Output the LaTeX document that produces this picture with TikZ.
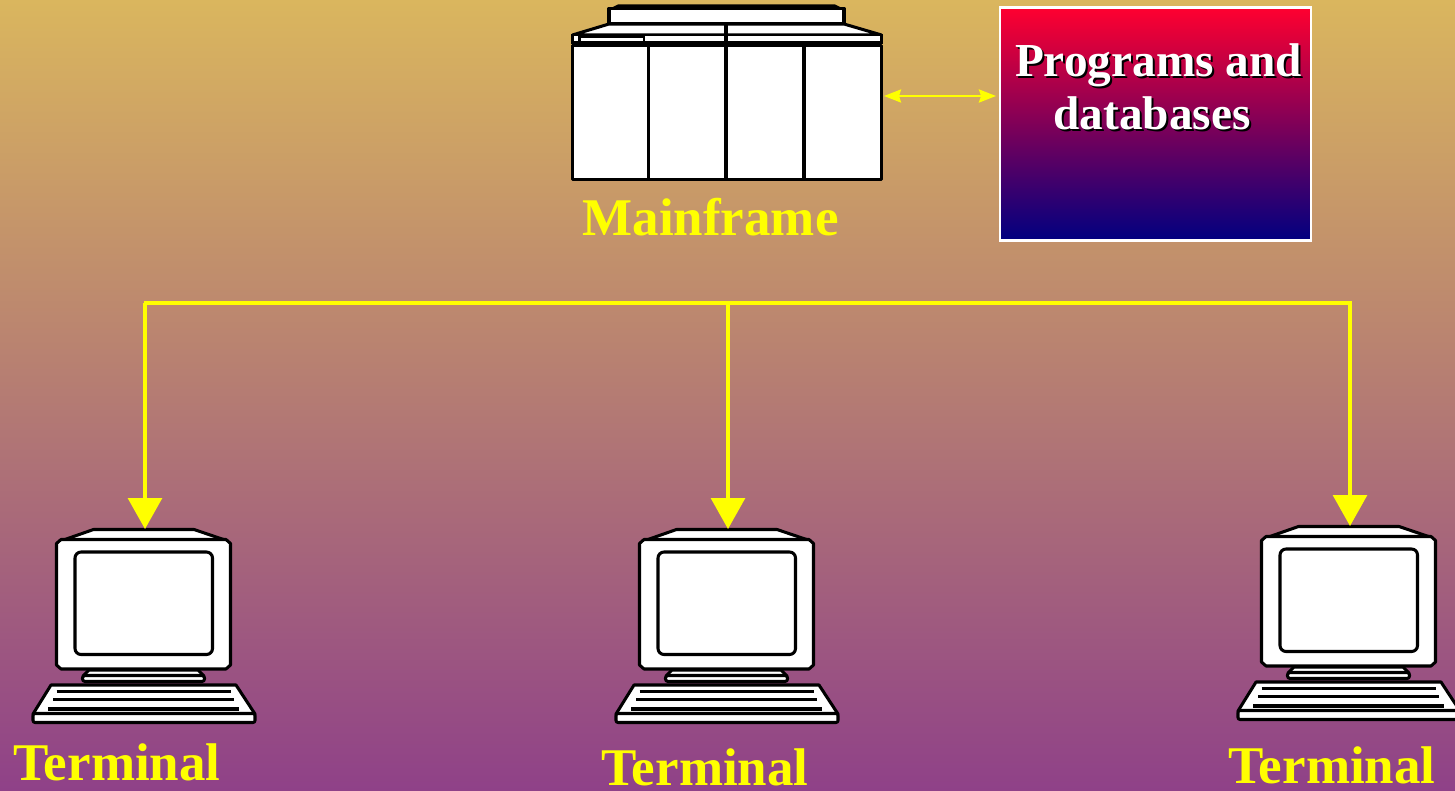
\documentclass[tikz,border=0pt]{standalone}
\usepackage{fontspec}
\setmainfont{Liberation Serif}
\usetikzlibrary{arrows.meta}
\definecolor{bgtop}{HTML}{DAB65E}
\definecolor{bgbot}{HTML}{8F4188}
\definecolor{boxtop}{HTML}{FF0030}
\definecolor{boxbot}{HTML}{000080}
\definecolor{ylw}{HTML}{FFFF00}
\tikzset{
  x=1pt,y=-1pt,
  ink/.style={draw=black,fill=white,line width=3.05pt,line join=round},
  inkline/.style={draw=black,line width=3.05pt,line cap=butt},
  thinink/.style={draw=black,fill=white,line width=2.2pt},
  bus/.style={draw=ylw,line width=3.1pt},
  drop/.style={bus,-{Triangle[width=34pt,length=31pt,fill=ylw]}},
  link/.style={draw=ylw,line width=2.4pt,{Stealth[width=13pt,length=17pt,inset=2pt,fill=ylw]}-{Stealth[width=13pt,length=17pt,inset=2pt,fill=ylw]}},
  lab/.style={anchor=base,inner sep=0pt,text=ylw,font=\bfseries\fontsize{53}{60}\selectfont},
  boxtext/.style={anchor=base,inner sep=0pt,font=\bfseries\fontsize{47.3}{50}\selectfont},
}
\newcommand{\terminal}[3]{%
  \begin{scope}[shift={(#2,#3)}]
    \draw[ink] (63.5,540) -- (93.5,529.5) -- (194,529.5) -- (225,540) -- cycle;
    \draw[ink] (61,539.5) -- (226,539.5) -- (230.5,543.5) -- (230.5,665) -- (226,669) -- (61,669) -- (56.5,665) -- (56.5,543.5) -- cycle;
    \draw[ink,rounded corners=6pt] (75,552) rectangle (212.5,654.5);
    \draw[ink] (89,670) -- (198,670) -- (204,676) -- (83,676) -- cycle;
    \draw[ink,rounded corners=2.5pt] (82.5,675.5) rectangle (204.5,681.5);
    \draw[ink] (51,685) -- (236,685) -- (255,714) -- (33,714) -- cycle;
    \draw[ink,rounded corners=2pt] (33,713.5) rectangle (255,722.5);
    \draw[inkline] (56.5,691.7) -- (230.5,691.7);
    \draw[inkline] (53,699.5) -- (234,699.5);
    \draw[inkline] (48,709) -- (239,709);
    \coordinate (#1top) at (144.5,529);
  \end{scope}%
}
\begin{document}
\begin{tikzpicture}
\useasboundingbox (0,0) rectangle (1455,791);
\clip (0,0) rectangle (1455,791);
\shade[top color=bgtop,bottom color=bgbot] (0,0) rectangle (1455,791);

% Mainframe
\fill[black] (609,9) -- (618,4.5) -- (835,4.5) -- (844,9) -- cycle;
\draw[ink] (609,8.5) rectangle (844,24);
\draw[ink] (572.5,35) -- (609,24) -- (844,24) -- (881.5,35) -- cycle;
\draw[thinink] (572.5,35) rectangle (881.5,42.5);
\draw[thinink] (572.5,35) rectangle (579.5,42.5);
\draw[thinink] (579.5,37) rectangle (644,42.5);
\draw[black,line width=1.8pt] (579.5,36.5) -- (644,36.5);
\draw[inkline] (726,24) -- (726,42.5);
\node[ink,rectangle,inner sep=0pt,outer sep=0pt,minimum width=309pt,minimum height=134pt,anchor=north west] (mf) at (572.5,45.5) {};
\draw[inkline] (648.5,45.5) -- (648.5,178);
\draw[inkline] (726,45.5) -- (726,178);
\draw[inkline] (804,45.5) -- (804,178);
\node[lab] (mflabel) at (710.5,236) {Mainframe};

% Programs and databases
\node[rectangle,inner sep=0pt,outer sep=0pt,draw=white,line width=2.6pt,top color=boxtop,bottom color=boxbot,minimum width=311pt,minimum height=233pt,anchor=north west] (db) at (1000,7.5) {};
\node[boxtext,text=black] at (1160.5,78.5) {Programs and};
\node[boxtext,text=black] at (1154,131.5) {databases};
\node[boxtext,text=white] (dbl1) at (1158.5,76.5) {Programs and};
\node[boxtext,text=white] (dbl2) at (1152,129.5) {databases};

% Link
\coordinate (mfport) at (884,96);
\coordinate (dbport) at (996,96);
\draw[link] (mfport) -- (dbport);

% Terminals
\terminal{ta}{0}{0}
\terminal{tb}{583}{0}
\terminal{tc}{1205}{-3}
\node[lab] at (117,780) {Terminal};
\node[lab] at (705,785.5) {Terminal};
\node[lab] at (1332,783) {Terminal};

% Bus
\coordinate (busl) at (145,303);
\coordinate (busm) at (728,303);
\coordinate (busr) at (1350,303);
\draw[bus] ([xshift=-1.5pt]busl) -- ([xshift=1.5pt]busr);
\draw[drop] (busl) -- (busl |- tatop);
\draw[drop] (busm) -- (busm |- tbtop);
\draw[drop] (busr) -- (busr |- tctop);
\end{tikzpicture}
\end{document}
